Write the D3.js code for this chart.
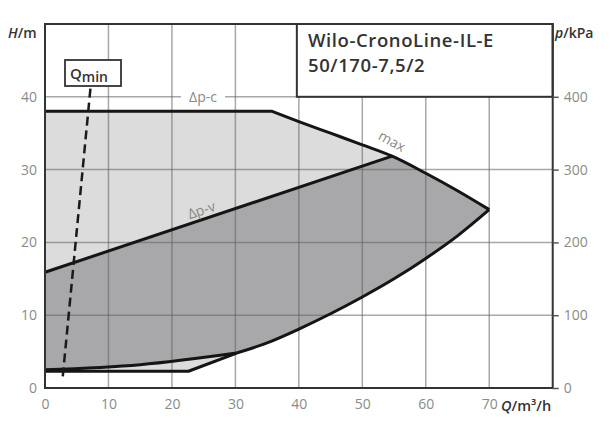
<!DOCTYPE html>
<html><head><meta charset="utf-8">
<script src="https://cdn.jsdelivr.net/npm/d3@7"></script>
<style>
html,body{margin:0;padding:0;background:#fff;}
svg{display:block;font-family:"Open Sans","DejaVu Sans",sans-serif;}
</style></head>
<body><svg id="c" width="614" height="427"></svg>
<script>
// ---- data (Q in m³/h, H in m) ----
const xTicks = [0,10,20,30,40,50,60,70];
const yTicks = [0,10,20,30,40];
const pTicks = [0,100,200,300,400];
const dpcQ = [0, 35.8];            const dpcH = [38, 38];
const maxQ = [35.8, 40, 45, 50, 54.7, 60, 65, 70];
const maxH = [38, 36.6, 35.0, 33.4, 31.85, 29.5, 27.1, 24.5];
const minQ = [30.2, 35, 40, 45, 50, 55, 60, 65, 70];
const minH = [4.8, 6.2, 8.1, 10.2, 12.5, 15.0, 17.8, 20.9, 24.5];
const dpvMaxQ = [0, 54.7];         const dpvMaxH = [15.9, 31.85];
const dpvMinQ = [0, 15, 30.2];     const dpvMinH = [2.5, 3.2, 4.8];
const bottomQ = [0, 22.6, 30.2];   const bottomH = [2.3, 2.3, 4.8];
const qminQ = [2.8, 7.2];          const qminH = [1.6, 41.5];
const titleLines = ["Wilo-CronoLine-IL-E", "50/170-7,5/2"];

const svg = d3.select("#c");
const L = 45, R = 552.7, T = 24, B = 388;
const x = d3.scaleLinear().domain([0,80]).range([L,R]);
const y = d3.scaleLinear().domain([0,50]).range([B,T]);
const yp = d3.scaleLinear().domain([0,500]).range([B,T]);

const pts = (qs, hs) => qs.map((q,i)=>[q, hs[i]]);
const line = d3.line().x(d=>x(d[0])).y(d=>y(d[1]));
const smooth = d3.line().x(d=>x(d[0])).y(d=>y(d[1])).curve(d3.curveMonotoneX);
// join several path pieces into one continuous path
const join = pieces => pieces.map((p,i)=> i===0 ? p : p.replace(/^M/,"L")).join("");

const maxP = pts(maxQ, maxH), minP = pts(minQ, minH);
const maxPart = maxP.filter(d=>d[0]>=54.7);

// light region
const lightD = join([
  line(pts(dpcQ,dpcH)),
  smooth(maxP),
  smooth(minP.slice().reverse()),
  line(pts(bottomQ,bottomH).reverse())
]) + "Z";
svg.append("path").attr("d", lightD).attr("fill","#dcdcdc");
// dark region
const darkD = join([
  line(pts(dpvMaxQ,dpvMaxH)),
  smooth(maxPart),
  smooth(minP.slice().reverse()),
  line(pts(dpvMinQ,dpvMinH).reverse())
]) + "Z";
svg.append("path").attr("d", darkD).attr("fill","#a8a8aa");

// grid
const g = svg.append("g").attr("stroke","#606060").attr("stroke-opacity",0.55).attr("stroke-width",1.5);
xTicks.filter(v=>v>0).forEach(v=>g.append("line").attr("x1",x(v)).attr("x2",x(v)).attr("y1",B).attr("y2",T));
yTicks.filter(v=>v>0).forEach(v=>g.append("line").attr("x1",L).attr("x2",R).attr("y1",y(v)).attr("y2",y(v)));

// curves
const cg = svg.append("g").attr("fill","none").attr("stroke","#151515").attr("stroke-width",3).attr("stroke-linejoin","round");
cg.append("path").attr("d", join([line(pts(dpcQ,dpcH)), smooth(maxP)]));
cg.append("path").attr("d", smooth(minP));
cg.append("path").attr("d", line(pts(dpvMaxQ,dpvMaxH)));
cg.append("path").attr("d", smooth(pts(dpvMinQ,dpvMinH)));
cg.append("path").attr("d", line(pts(bottomQ,bottomH)));

// Qmin dashed
svg.append("path").attr("d", line(pts(qminQ,qminH))).attr("fill","none")
  .attr("stroke","#1a1a1a").attr("stroke-width",2.5).attr("stroke-dasharray","9,5");

// Qmin box
svg.append("rect").attr("x",65).attr("y",60).attr("width",56).attr("height",26)
  .attr("fill","#fff").attr("stroke","#333").attr("stroke-width",1.8);
const qt = svg.append("text").attr("x",70).attr("y",79).attr("fill","#333").attr("font-size",15).attr("font-weight",600);
qt.append("tspan").text("Q");
qt.append("tspan").attr("dy",3).attr("font-size",14).text("min");

// title box
svg.append("rect").attr("x",x(40)-2).attr("y",T).attr("width",R-x(40)+2).attr("height",y(40)-T)
  .attr("fill","#fff").attr("stroke","#333").attr("stroke-width",2);
titleLines.forEach((t,i)=>svg.append("text").attr("x",308).attr("y",47+i*25)
  .attr("fill","#333").attr("font-size",18.5).attr("letter-spacing",0.6).attr("font-weight",600).text(t));

// labels on curves
const dpc = svg.append("g").attr("transform",`translate(${x(24.9)},${y(40)})`);
dpc.append("rect").attr("x",-22).attr("y",-6).attr("width",44).attr("height",12).attr("fill","#fff");
dpc.append("text").attr("text-anchor","middle").attr("dy","0.35em").attr("fill","#888").attr("font-size",14).text("Δp-c");
svg.append("text").attr("transform",`translate(${x(24.9)},${y(23.1)-5}) rotate(-18.6)`)
  .attr("text-anchor","middle").attr("fill","#888").attr("font-size",14).text("Δp-v");
svg.append("text").attr("transform",`translate(${x(54.3)},${y(32.9)-3}) rotate(29)`)
  .attr("text-anchor","middle").attr("fill","#888").attr("font-size",14).text("max");

// frame
svg.append("rect").attr("x",L).attr("y",T).attr("width",R-L).attr("height",B-T)
  .attr("fill","none").attr("stroke","#333").attr("stroke-width",2);

// axes
const ax = svg.append("g").attr("transform",`translate(0,${B})`).call(d3.axisBottom(x).tickValues(xTicks).tickSize(0).tickPadding(11));
const ay = svg.append("g").attr("transform",`translate(${L},0)`).call(d3.axisLeft(y).tickValues(yTicks).tickSize(0).tickPadding(8));
const ar = svg.append("g").attr("transform",`translate(${R},0)`).call(d3.axisRight(yp).tickValues(pTicks).tickSize(6).tickPadding(5));
[ax,ay,ar].forEach(a=>{
  a.select(".domain").remove();
  a.selectAll("text").attr("fill","#8a8a8a").attr("font-size",14).attr("font-family","Open Sans, DejaVu Sans, sans-serif");
  a.selectAll("line").attr("stroke","#555").attr("stroke-width",1.5);
});

// axis titles
const ht = svg.append("text").attr("x",8).attr("y",38).attr("fill","#333").attr("font-size",14).attr("font-weight",600);
ht.append("tspan").attr("font-style","italic").text("H"); ht.append("tspan").text("/m");
const pt = svg.append("text").attr("x",555).attr("y",38).attr("fill","#333").attr("font-size",14).attr("font-weight",600);
pt.append("tspan").attr("font-style","italic").text("p"); pt.append("tspan").text("/kPa");
const qtt = svg.append("text").attr("x",501).attr("y",411).attr("fill","#333").attr("font-size",14.5).attr("font-weight",600);
qtt.append("tspan").attr("font-style","italic").text("Q"); qtt.append("tspan").text("/m³/h");
</script></body></html>
